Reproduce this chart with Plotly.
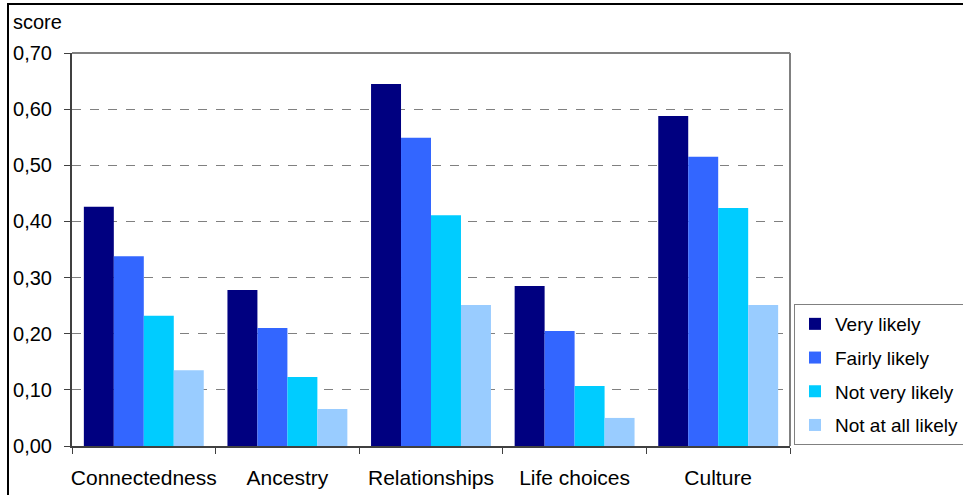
import plotly.graph_objects as go

categories = ["Connectedness", "Ancestry", "Relationships", "Life choices", "Culture"]
very_likely = [0.426, 0.278, 0.645, 0.285, 0.588]
fairly_likely = [0.338, 0.210, 0.549, 0.205, 0.515]
not_very_likely = [0.232, 0.123, 0.411, 0.107, 0.424]
not_at_all_likely = [0.135, 0.066, 0.251, 0.050, 0.251]
series_names = ["Very likely", "Fairly likely", "Not very likely", "Not at all likely"]
colors = ["#000080", "#3366FF", "#00CCFF", "#99CCFF"]
y_ticks = [0.0, 0.1, 0.2, 0.3, 0.4, 0.5, 0.6, 0.7]

FONT = "Liberation Sans, Arial, sans-serif"

fig = go.Figure()
for name, vals, col in zip(series_names, [very_likely, fairly_likely, not_very_likely, not_at_all_likely], colors):
    fig.add_trace(go.Bar(name=name, legendgroup=name, x=categories, y=vals,
                         marker=dict(color=col, line=dict(width=0))))

W, H = 963, 495
L, R, T, B = 72, 963 - 790, 53, 495 - 446
pw, ph = W - L - R, H - T - B

fig.update_layout(
    width=W, height=H,
    margin=dict(l=L, r=R, t=T, b=B, pad=0, autoexpand=False),
    paper_bgcolor="white", plot_bgcolor="white",
    separators=",.",
    barmode="group", bargap=0.165, bargroupgap=0,
    font=dict(family=FONT, size=20, color="black"),
    showlegend=True,
    legend=dict(
        x=(794 - L) / pw, xanchor="left",
        y=(446 - 445) / ph, yanchor="bottom",
        bgcolor="white", bordercolor="#808080", borderwidth=1,
        font=dict(family=FONT, size=19, color="black"),
        itemsizing="constant", tracegroupgap=6,
    ),
    xaxis=dict(
        showline=True, linecolor="#404040", linewidth=2,
        ticks="outside", tickson="boundaries", ticklen=6, tickcolor="#404040",
        showgrid=False, ticklabelstandoff=12, tickangle=0, automargin=False,
        tickfont=dict(family=FONT, size=21),
    ),
    yaxis=dict(
        range=[0, 0.7], tickvals=y_ticks, tickformat=".2f",
        showline=True, linecolor="#404040", linewidth=2,
        ticks="outside", ticklen=6, tickcolor="#404040", automargin=False,
        ticklabelstandoff=8,
        showgrid=True, gridcolor="#808080", griddash="dash", gridwidth=1,
        zeroline=False,
        tickfont=dict(family=FONT, size=20),
    ),
    shapes=[
        dict(type="line", xref="paper", yref="paper", x0=0, x1=1, y0=1, y1=1,
             line=dict(color="#808080", width=2)),
        dict(type="line", xref="paper", yref="paper", x0=1, x1=1, y0=0, y1=1,
             line=dict(color="#808080", width=2)),
        dict(type="rect", xref="paper", yref="paper",
             x0=(8 - L) / pw, x1=1.5, y0=-0.5, y1=1 + (T - 4) / ph,
             line=dict(color="black", width=2)),
    ],
    annotations=[
        dict(text="score", xref="paper", yref="paper",
             x=(11 - L) / pw, y=1 + (T - 22) / ph, xanchor="left", yanchor="middle",
             showarrow=False, font=dict(family=FONT, size=20)),
    ],
)

fig.write_html("out.html")
